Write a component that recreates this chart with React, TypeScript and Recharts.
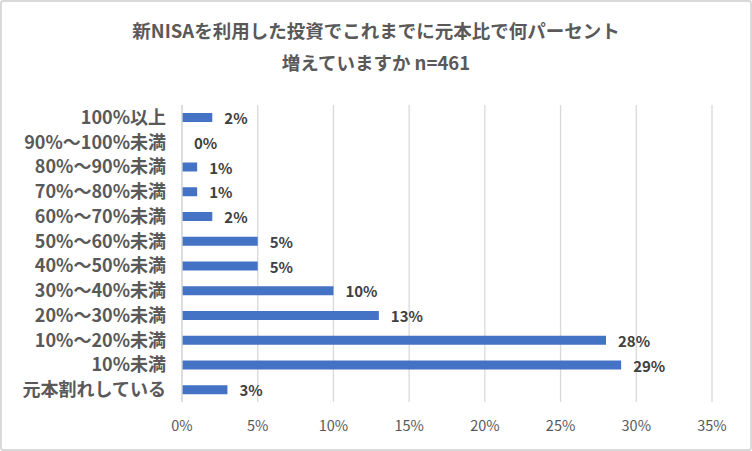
import React from "react";
import {
  BarChart,
  Bar,
  XAxis,
  YAxis,
  CartesianGrid,
  LabelList,
} from "recharts";

// ── Data ─────────────────────────────────────────────────────────────────────

const categories = [
  "100%以上",
  "90%～100%未満",
  "80%～90%未満",
  "70%～80%未満",
  "60%～70%未満",
  "50%～60%未満",
  "40%～50%未満",
  "30%～40%未満",
  "20%～30%未満",
  "10%～20%未満",
  "10%未満",
  "元本割れしている",
];

const shares = [2, 0, 1, 1, 2, 5, 5, 10, 13, 28, 29, 3];

const xTicks = [0, 5, 10, 15, 20, 25, 30, 35];

const titleLines = [
  "新NISAを利用した投資でこれまでに元本比で何パーセント",
  "増えていますか n=461",
];

const data = categories.map((name, i) => ({ name, value: shares[i] }));

const FONT = '"Noto Sans CJK JP", "Noto Sans", sans-serif';
const GREY = "#595959";

// label drawn right of the bar end, also for zero-length bars
const renderValue = (props: any) => {
  const { x, y, width, height, value } = props;
  return (
    <text
      x={Number(x) + Number(width) + 12}
      y={Number(y) + Number(height) / 2}
      dominantBaseline="central"
      fill="#404040"
      fontSize={15}
      fontWeight={700}
      fontFamily={FONT}
    >
      {`${value}%`}
    </text>
  );
};

// ── Component ────────────────────────────────────────────────────────────────

export default function App() {
  return (
    <div
      style={{
        position: "fixed",
        top: 0,
        left: 0,
        width: 752,
        height: 451,
        background: "#ffffff",
        fontFamily: FONT,
      }}
    >
      <div
        style={{
          position: "absolute",
          top: 14,
          left: 0,
          width: 752,
          textAlign: "center",
          color: GREY,
          fontSize: 18.5,
          fontWeight: 700,
          lineHeight: "32px",
        }}
      >
        {titleLines.map((t) => (
          <div key={t}>{t}</div>
        ))}
      </div>
      <div style={{ position: "absolute", top: 0, left: 0 }}>
        <BarChart
          width={752}
          height={451}
          data={data}
          layout="vertical"
          margin={{ top: 105, right: 40, bottom: 19, left: 0 }}
        >
          <CartesianGrid horizontal={false} stroke="#d9d9d9" strokeWidth={1.3} />
          <XAxis
            type="number"
            domain={[0, 35]}
            ticks={xTicks}
            interval={0}
            tickFormatter={(v: number) => `${v}%`}
            axisLine={false}
            tickLine={false}
            tickMargin={13}
            height={30}
            tick={{ fill: GREY, fontSize: 14.5, fontFamily: FONT }}
          />
          <YAxis
            type="category"
            dataKey="name"
            width={182}
            axisLine={{ stroke: "#d9d9d9", strokeWidth: 1.3 }}
            tickLine={false}
            tickMargin={10}
            interval={0}
            tick={{ fill: GREY, fontSize: 18, fontWeight: 700, fontFamily: FONT }}
          />
          <Bar
            dataKey="value"
            fill="#4472c4"
            barSize={9}
            minPointSize={0.01}
            isAnimationActive={false}
          >
            <LabelList dataKey="value" content={renderValue} />
          </Bar>
        </BarChart>
      </div>
      <div
        style={{
          position: "absolute",
          inset: 0,
          border: "2px solid #d9d9d9",
          borderRadius: 3,
          pointerEvents: "none",
        }}
      />
    </div>
  );
}
